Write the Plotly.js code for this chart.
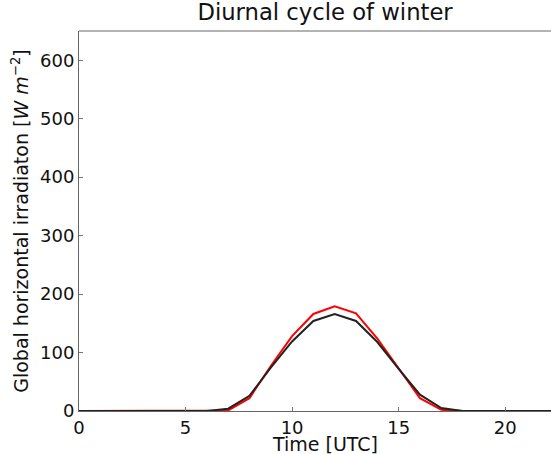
<!DOCTYPE html>
<html><head><meta charset="utf-8">
<script src="https://cdn.plot.ly/plotly-3.0.1.min.js"></script>
<style>body{margin:0;background:#fff}#chart{width:551px;height:454px}</style>
</head><body><div id="chart"></div>
<script>
const hours = [0,1,2,3,4,5,6,7,8,9,10,11,12,13,14,15,16,17,18,19,20,21,22,23];
const redSeries = [0,0,0,0,0,0,0,1,22,77,128,166,179,167,124,72,22,2,0,0,0,0,0,0];
const blackSeries = [0,0,0,0,0,0,0,4,26,74,119,154,166,154,118,72,28,5,0,0,0,0,0,0];
const xTicks = [0,5,10,15,20];
const yTicks = [0,100,200,300,400,500,600];
const xTitle = 'Time [UTC]';

const fam = 'DejaVu Sans, sans-serif';
const traces = [
  {x: hours, y: redSeries, mode: 'lines', line: {color: '#ff0000', width: 2}, hoverinfo: 'none'},
  {x: hours, y: blackSeries, mode: 'lines', line: {color: '#222222', width: 2}, hoverinfo: 'none'}
];
const layout = {
  width: 551, height: 454,
  margin: {l: 79, r: 0, t: 31, b: 43, pad: 0},
  showlegend: false,
  paper_bgcolor: '#fff', plot_bgcolor: '#fff',
  font: {family: fam, size: 18, color: '#000'},
  title: {text: 'Diurnal cycle of winter', font: {family: fam, size: 22.7, color: '#111'}, x: 0.59, xanchor: 'center', y: 0.99, yanchor: 'top'},
  xaxis: {
    range: [0, 22.15], tickvals: xTicks, ticktext: xTicks.map(String),
    ticks: 'inside', ticklen: 4, tickcolor: '#777', showgrid: false, zeroline: false,
    showline: true, linecolor: '#666', linewidth: 1, mirror: false,
    tickfont: {family: fam, size: 18, color: '#111'}
  },
  yaxis: {
    range: [0, 650], tickvals: yTicks, ticktext: yTicks.map(String),
    ticks: 'inside', ticklen: 4, tickcolor: '#777', showgrid: false, zeroline: false,
    showline: true, linecolor: '#666', linewidth: 1, mirror: false,
    tickfont: {family: fam, size: 18, color: '#111'},
    title: {text: 'Global horizontal irradiaton [<i>W m</i><sup>−2</sup>]', font: {family: fam, size: 19, color: '#111'}, standoff: 6}
  },
  annotations: [
    {text: xTitle, xref: 'paper', yref: 'paper', x: 0.521, y: 0, yshift: -20, xanchor: 'center', yanchor: 'top',
     showarrow: false, font: {family: fam, size: 19, color: '#111'}}
  ],
  shapes: [
    {type: 'line', xref: 'paper', yref: 'paper', x0: 0, x1: 1, y0: 1, y1: 1, line: {color: '#666', width: 1}}
  ]
};
Plotly.newPlot('chart', traces, layout, {displayModeBar: false, staticPlot: true});
</script></body></html>
